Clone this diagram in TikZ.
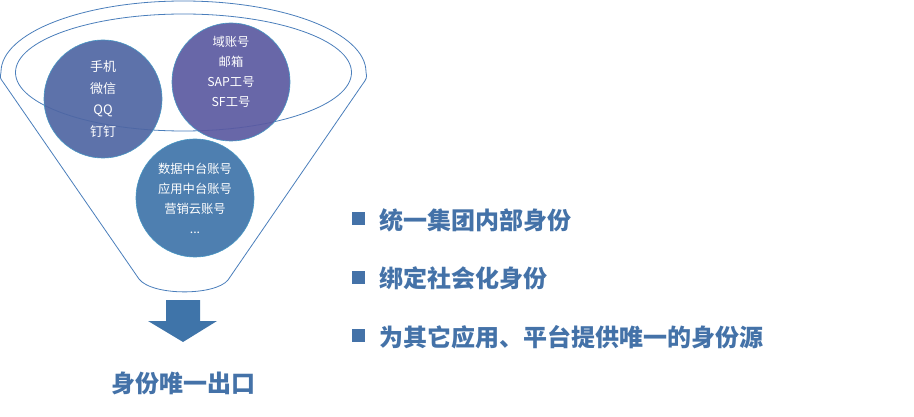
\documentclass[tikz,border=0pt]{standalone}
\usepackage{fontspec}
\setmainfont{Noto Sans CJK SC}
\usepackage{tikz}
\usepackage{xcolor}
\definecolor{funnelline}{HTML}{4A7EBB}
\definecolor{phonecirc}{HTML}{4F66A3}
\definecolor{corpcirc}{HTML}{5B5AA1}
\definecolor{platcirc}{HTML}{3F74A9}
\definecolor{textblue}{HTML}{4472A8}

\begin{document}
\begin{tikzpicture}[x=1pt,y=-1pt,
  idcirc/.style={circle,minimum size=118pt,inner sep=0pt,draw=cyan!45!platcirc,line width=0.6pt,fill opacity=0.92},
  idtext/.style={text=white,align=center},
  bulletbox/.style={fill=textblue,minimum size=13pt,inner sep=0pt},
  bullettext/.style={text=textblue,anchor=west,inner sep=0pt,font=\fontsize{24}{27}\selectfont\bfseries}]
  \useasboundingbox (0,0) rectangle (914,417);

  % funnel outline
  \draw[funnelline,line width=0.8pt] (139,279) -- (3,82) .. controls (0,78) .. (1,72)
    arc[start angle=180,end angle=360,x radius=182.5,y radius=71]
    .. controls (367,78) .. (362,85) -- (228,280)
    .. controls (215,296) and (152,296) .. (139,279);
  \draw[funnelline,line width=0.8pt] (183.5,72.5) ellipse[x radius=168,y radius=58.5];

  % identity sources
  \node[idcirc,fill=phonecirc] (phone) at (103,99) {};
  \node[idcirc,fill=corpcirc] (corp) at (231,82) {};
  \node[idcirc,fill=platcirc] (plat) at (195,198) {};
  \node[idtext,font=\fontsize{13}{21.7}\selectfont] (phonetxt) at (phone) {手机\\微信\\QQ\\钉钉};
  \node[idtext,font=\fontsize{12.3}{20}\selectfont] (corptxt) at ([yshift=10pt]corp.center) {域账号\\邮箱\\SAP工号\\SF工号};
  \node[idtext,font=\fontsize{12.3}{20}\selectfont] (plattxt) at (plat) {数据中台账号\\应用中台账号\\营销云账号\\...};

  % output arrow
  \fill[platcirc] (166,300) -- (200,300) -- (200,321) -- (217,321) -- (183,342)
    -- (148,321) -- (166,321) -- cycle;
  \node[text=textblue,font=\fontsize{24}{27}\selectfont\bfseries] (exit) at (183,383) {身份唯一出口};

  % goals
  \foreach \txt [count=\i] in {统一集团内部身份,绑定社会化身份,为其它应用、平台提供唯一的身份源}{
    \node[bulletbox] (box\i) at (358.5,{218.5+58.5*(\i-1)}) {};
    \node[bullettext] (item\i) at (379,{220+58.5*(\i-1)}) {\txt};
  }
\end{tikzpicture}
\end{document}
